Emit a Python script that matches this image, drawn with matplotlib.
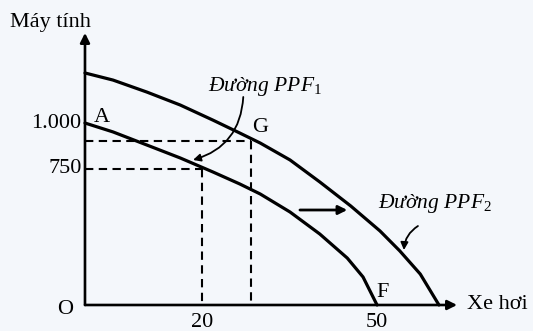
import matplotlib
matplotlib.use("Agg")
import matplotlib.pyplot as plt

plt.rcParams['font.family'] = ['Liberation Serif', 'DejaVu Serif']
plt.rcParams['mathtext.fontset'] = 'custom'
plt.rcParams['mathtext.it'] = 'Liberation Serif:italic'
plt.rcParams['mathtext.rm'] = 'Liberation Serif'

# PPF curves: cars (x) vs computers (y)
ppf1_x = [0, 4.8, 10.6, 16.3, 21.9, 26.5, 30.0, 35.1, 40.2, 44.9, 47.6, 50]
ppf1_y = [1000, 951, 879, 808, 731, 665, 610, 511, 390, 258, 154, 0]
ppf2_x = [0, 4.8, 10.6, 16.3, 21.9, 26.5, 30.0, 35.1, 40.2, 45.5, 50.5, 53.9, 57.4, 60.6]
ppf2_y = [1275, 1236, 1170, 1099, 1016, 945, 890, 797, 676, 544, 407, 297, 170, 0]

# reference points on the graph
point_low = (20, 750)
point_g = (28.5, 900)
x_ticks = [20, 50]
y_ticks = [750, 1000]
y_tick_labels = ['750', '1.000']

fig = plt.figure(figsize=(5.33, 3.31), dpi=100)
fig.patch.set_facecolor('#f4f7fb')
ax = fig.add_axes([0, 0, 1, 1])
ax.set_facecolor('#f4f7fb')
ax.set_xlim(-14.55, 76.7)
ax.set_ylim(-142.9, 1676)
ax.axis('off')

# axes with arrow heads
ax.annotate('', xy=(0, 1495), xytext=(0, 0),
            arrowprops=dict(arrowstyle='-|>', color='black', lw=1.9, mutation_scale=14, shrinkA=0, shrinkB=0))
ax.annotate('', xy=(63.7, 0), xytext=(0, 0),
            arrowprops=dict(arrowstyle='-|>', color='black', lw=1.9, mutation_scale=14, shrinkA=0, shrinkB=0))

# the two frontiers
ax.plot(ppf1_x, ppf1_y, color='black', lw=2.3, solid_capstyle='round', solid_joinstyle='round')
ax.plot(ppf2_x, ppf2_y, color='black', lw=2.3, solid_capstyle='round', solid_joinstyle='round')

# dashed guides
dash = (0, (4, 2.6))
for px, py in [point_low, point_g]:
    ax.plot([0, px], [py, py], color='black', lw=1.5, linestyle=dash)
    ax.plot([px, px], [py, 0], color='black', lw=1.5, linestyle=dash)

# tick labels
fs = 16
for yv, lab in zip(y_ticks, y_tick_labels):
    ax.text(-0.6, yv, lab, ha='right', va='center', fontsize=fs)
for xv in x_ticks:
    ax.text(xv, -95, str(xv), ha='center', va='center', fontsize=fs)
ax.text(-3.4, -27, 'O', ha='center', va='center', fontsize=fs)

ax.text(-12.8, 1555, 'Máy tính', ha='left', va='center', fontsize=fs)
ax.text(65.4, 5, 'Xe hơi', ha='left', va='center', fontsize=fs)

ax.text(2.9, 1033, 'A', ha='center', va='center', fontsize=fs)
ax.text(30.0, 973, 'G', ha='center', va='center', fontsize=fs)
ax.text(50.9, 66, 'F', ha='center', va='center', fontsize=fs)

# curve names with pointers
ax.text(21.1, 1203, r'Đường $\mathit{PPF}_{\mathit{1}}$', ha='left', va='center',
        fontsize=15.5, fontstyle='italic')
ax.text(50.2, 560, r'Đường $\mathit{PPF}_{\mathit{2}}$', ha='left', va='center',
        fontsize=15.5, fontstyle='italic')

ax.annotate('', xy=(18.5, 797), xytext=(27.1, 1143),
            arrowprops=dict(arrowstyle='-|>', color='black', lw=1.3, mutation_scale=11,
                            connectionstyle='arc3,rad=-0.35', shrinkA=0, shrinkB=0))
ax.annotate('', xy=(54.6, 302), xytext=(57.0, 434),
            arrowprops=dict(arrowstyle='-|>', color='black', lw=1.3, mutation_scale=11,
                            connectionstyle='arc3,rad=0.25', shrinkA=0, shrinkB=0))

# shift arrow between the frontiers
ax.annotate('', xy=(44.9, 522), xytext=(36.8, 522),
            arrowprops=dict(arrowstyle='-|>', color='black', lw=2.0, mutation_scale=13,
                            shrinkA=0, shrinkB=0))

fig.savefig('out.png', dpi=100, facecolor=fig.get_facecolor())
